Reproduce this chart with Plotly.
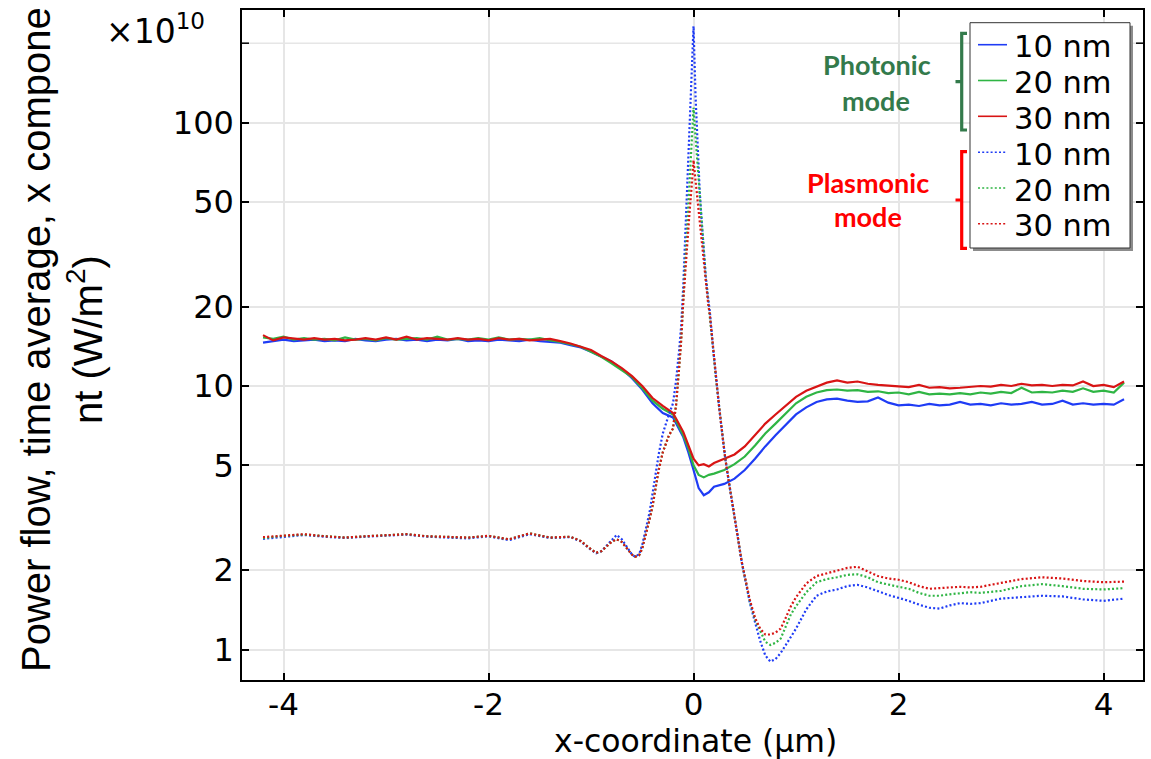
import plotly.graph_objects as go

# ---------------- data ----------------
x_ph = [-4.2, -4.1, -4.0, -3.9, -3.8, -3.7, -3.6, -3.5, -3.4, -3.3,
        -3.2, -3.1, -3.0, -2.9, -2.8, -2.7, -2.6, -2.5, -2.4, -2.3,
        -2.2, -2.1, -2.0, -1.9, -1.8, -1.7, -1.6, -1.5, -1.4, -1.3,
        -1.2, -1.1, -1.0, -0.9, -0.8, -0.7, -0.6, -0.5, -0.4, -0.3,
        -0.2, -0.1, -0.05, 0.0, 0.05, 0.1, 0.15, 0.2, 0.3, 0.4,
        0.5, 0.6, 0.7, 0.8, 0.9, 1.0, 1.1, 1.2, 1.3, 1.4,
        1.5, 1.6, 1.7, 1.8, 1.9, 2.0, 2.1, 2.2, 2.3, 2.4,
        2.5, 2.6, 2.7, 2.8, 2.9, 3.0, 3.1, 3.2, 3.3, 3.4,
        3.5, 3.6, 3.7, 3.8, 3.9, 4.0, 4.1, 4.2]

ph_10nm = [14.6, 14.8, 15.0, 14.8, 14.9, 15.0, 14.8, 14.9, 14.8, 15.1,
           14.9, 14.8, 15.0, 15.1, 14.9, 15.0, 14.8, 15.0, 14.9, 15.1,
           14.8, 14.9, 14.8, 15.0, 14.9, 14.8, 15.0, 14.8, 14.7, 14.6,
           14.3, 14.0, 13.5, 12.9, 12.4, 11.6, 10.7, 9.7, 8.6, 7.9,
           7.6, 6.4, 5.6, 4.8, 4.1, 3.85, 3.95, 4.15, 4.25, 4.45,
           4.8, 5.3, 5.9, 6.5, 7.1, 7.8, 8.3, 8.7, 8.9, 8.95,
           8.8, 8.7, 8.75, 9.05, 8.65, 8.45, 8.5, 8.4, 8.55, 8.45,
           8.5, 8.7, 8.5, 8.55, 8.45, 8.6, 8.5, 8.55, 8.7, 8.5,
           8.55, 8.8, 8.5, 8.6, 8.5, 8.55, 8.5, 8.9]

ph_20nm = [15.3, 15.1, 15.4, 15.0, 15.2, 15.0, 15.1, 14.9, 15.3, 15.0,
           15.1, 14.9, 15.2, 15.0, 15.1, 15.2, 15.0, 15.4, 15.0, 15.1,
           15.0, 15.2, 15.0, 15.3, 15.0, 15.1, 15.0, 15.2, 14.9, 14.7,
           14.4, 14.1, 13.5, 12.9, 12.2, 11.5, 10.8, 9.8, 8.8, 8.2,
           7.8, 6.5, 5.8, 5.0, 4.6, 4.5, 4.6, 4.65, 4.8, 5.05,
           5.4, 5.95, 6.6, 7.2, 7.9, 8.6, 9.1, 9.45, 9.65, 9.7,
           9.6, 9.65, 9.5, 9.55, 9.4, 9.45, 9.3, 9.5, 9.3, 9.35,
           9.3, 9.4, 9.3, 9.45, 9.35, 9.5, 9.4, 9.85, 9.45, 9.5,
           9.45, 9.6, 9.5, 9.8, 9.5, 9.6, 9.45, 10.3]

ph_30nm = [15.6, 14.9, 15.3, 15.1, 15.0, 15.2, 15.0, 15.1, 14.9, 15.0,
           15.2, 15.0, 15.3, 15.0, 15.4, 15.0, 15.2, 15.1, 15.0, 15.2,
           15.0, 15.1, 14.9, 15.2, 15.0, 15.1, 14.9, 15.0, 15.1, 14.8,
           14.5, 14.1, 13.7, 13.0, 12.4, 11.7, 10.9, 10.0, 9.0, 8.4,
           7.9, 6.7, 6.0, 5.3, 5.0, 5.05, 4.95, 5.1, 5.3, 5.5,
           5.9, 6.5, 7.2, 7.8, 8.4, 9.1, 9.6, 9.95, 10.3, 10.5,
           10.3, 10.4, 10.2, 10.1, 10.05, 10.0, 9.9, 10.1, 9.85, 9.9,
           9.8, 9.85, 9.9, 10.0, 9.95, 10.1, 10.0, 10.2, 10.05, 10.1,
           10.0, 10.1, 10.05, 10.4, 10.0, 10.1, 9.9, 10.4]

x_pl = [-4.2, -4.0, -3.8, -3.6, -3.4, -3.2, -3.0, -2.8, -2.6, -2.4,
        -2.2, -2.0, -1.8, -1.6, -1.4, -1.2, -1.1, -1.0, -0.95, -0.9,
        -0.85, -0.8, -0.75, -0.7, -0.65, -0.6, -0.57, -0.53, -0.5, -0.46,
        -0.43, -0.4, -0.37, -0.34, -0.3, -0.27, -0.24, -0.2, -0.17, -0.14,
        -0.12, -0.1, -0.08, -0.06, -0.04, -0.02, 0.0, 0.02, 0.04, 0.06,
        0.08, 0.1, 0.12, 0.14, 0.16, 0.19, 0.22, 0.25, 0.28, 0.31,
        0.35, 0.39, 0.43, 0.47, 0.51, 0.55, 0.6, 0.65, 0.7, 0.75,
        0.8, 0.85, 0.9, 0.95, 1.0, 1.1, 1.2, 1.3, 1.4, 1.5,
        1.6, 1.7, 1.8, 1.9, 2.0, 2.1, 2.2, 2.3, 2.4, 2.5,
        2.6, 2.7, 2.8, 2.9, 3.0, 3.2, 3.4, 3.6, 3.8, 4.0, 4.2]

pl_10nm = [2.63, 2.68, 2.72, 2.68, 2.65, 2.68, 2.70, 2.73, 2.68, 2.66,
           2.64, 2.69, 2.60, 2.74, 2.65, 2.67, 2.57, 2.39, 2.32, 2.36,
           2.48, 2.60, 2.72, 2.62, 2.44, 2.29, 2.25, 2.30, 2.50, 2.95,
           3.3, 3.9, 4.7, 5.5, 6.6, 7.2, 7.8, 8.6, 10.5, 13.7,
           17.0, 24.0, 38.0, 57.0, 91.0, 145.0, 232.0, 125.0, 80.0, 55.0,
           42.0, 32.0, 26.0, 22.0, 19.0, 14.0, 10.5, 8.3, 6.6, 5.3,
           4.2, 3.3, 2.7, 2.15, 1.78, 1.5, 1.27, 1.08, 0.95, 0.9,
           0.92, 0.97, 1.04, 1.12, 1.2, 1.42, 1.6, 1.66, 1.69, 1.74,
           1.76, 1.72, 1.66, 1.61, 1.57, 1.53, 1.48, 1.44, 1.43, 1.47,
           1.5, 1.49, 1.5, 1.53, 1.56, 1.58, 1.6, 1.59, 1.55, 1.53, 1.56]

pl_20nm = [2.65, 2.70, 2.73, 2.69, 2.66, 2.69, 2.71, 2.74, 2.69, 2.67,
           2.66, 2.70, 2.62, 2.76, 2.66, 2.68, 2.58, 2.40, 2.33, 2.36,
           2.46, 2.56, 2.62, 2.56, 2.42, 2.29, 2.25, 2.28, 2.42, 2.77,
           3.1, 3.5, 4.1, 4.8, 5.6, 6.1, 6.5, 6.9, 8.5, 11.8,
           15.0, 21.0, 30.0, 43.0, 60.0, 85.0, 114.0, 88.0, 68.0, 51.0,
           40.0, 31.0, 25.5, 21.5, 18.5, 14.0, 10.5, 8.3, 6.6, 5.3,
           4.2, 3.3, 2.7, 2.15, 1.78, 1.52, 1.3, 1.17, 1.07, 1.04,
           1.06, 1.1, 1.22, 1.36, 1.46, 1.65, 1.8, 1.85, 1.88, 1.92,
           1.93, 1.88, 1.8, 1.76, 1.73, 1.7, 1.64, 1.6, 1.6, 1.62,
           1.64, 1.65, 1.64, 1.66, 1.67, 1.74, 1.77, 1.74, 1.7, 1.69, 1.71]

pl_30nm = [2.67, 2.70, 2.74, 2.69, 2.66, 2.69, 2.71, 2.74, 2.69, 2.67,
           2.66, 2.70, 2.62, 2.76, 2.66, 2.68, 2.58, 2.40, 2.33, 2.36,
           2.46, 2.56, 2.62, 2.56, 2.42, 2.29, 2.25, 2.28, 2.42, 2.77,
           3.1, 3.5, 4.1, 4.8, 5.6, 6.1, 6.5, 6.9, 8.5, 11.8,
           15.0, 21.0, 28.0, 36.0, 45.0, 56.0, 72.0, 60.0, 50.0, 42.0,
           35.0, 29.0, 24.5, 21.0, 18.5, 14.0, 10.5, 8.3, 6.6, 5.3,
           4.2, 3.3, 2.7, 2.15, 1.8, 1.54, 1.32, 1.2, 1.14, 1.14,
           1.16, 1.2, 1.32, 1.46, 1.58, 1.78, 1.9, 1.95, 1.99, 2.04,
           2.06, 1.98, 1.9, 1.86, 1.84, 1.8, 1.74, 1.7, 1.71, 1.72,
           1.73, 1.72, 1.73, 1.76, 1.79, 1.85, 1.88, 1.86, 1.82, 1.8, 1.81]

series_labels = ["10 nm", "20 nm", "30 nm"]
y_tickvals = [1, 2, 5, 10, 20, 50, 100]
y_ticktext = ["1", "2", "5", "10", "20", "50", "100"]
y_extra_grid = [200]          # unlabeled grid line at the top
x_tickvals = [-4, -2, 0, 2, 4]
x_ticktext = ["-4", "-2", "0", "2", "4"]

# ---------------- styling ----------------
W, H = 1151, 759
L, R, T, B = 242, 1143, 10, 680
colors = ["#1f3cf5", "#2fb544", "#d81414"]
dot_dash = "2px,2.2px"
grid_col = "#e6e6e6"


def px(x):
    return (x - L) / (R - L)


def py(y):
    return (B - y) / (B - T)


fig = go.Figure()
for ys, c, lab in zip([ph_10nm, ph_20nm, ph_30nm], colors, series_labels):
    fig.add_trace(go.Scatter(x=x_ph, y=ys, mode="lines", name=lab,
                             line=dict(color=c, width=2.2), showlegend=False))
for ys, c, lab in zip([pl_10nm, pl_20nm, pl_30nm], colors, series_labels):
    fig.add_trace(go.Scatter(x=x_pl, y=ys, mode="lines", name=lab,
                             line=dict(color=c, width=2.2, dash=dot_dash),
                             showlegend=False))

shapes = []
annotations = []

# extra unlabeled grid line + ticks at 200
for v in y_extra_grid:
    shapes.append(dict(type="line", xref="paper", yref="y", x0=0, x1=1, y0=v, y1=v,
                       line=dict(color=grid_col, width=1.6), layer="below"))
    shapes.append(dict(type="line", xref="paper", yref="y", x0=0, x1=px(L + 7), y0=v, y1=v,
                       line=dict(color="black", width=1.5), layer="above"))
    shapes.append(dict(type="line", xref="paper", yref="y", x0=px(R - 7), x1=1, y0=v, y1=v,
                       line=dict(color="black", width=1.5), layer="above"))

# legend box with shadow
shapes.append(dict(type="rect", xref="paper", yref="paper",
                   x0=px(973), x1=px(1133), y0=py(251), y1=py(25.7),
                   fillcolor="#8c8c8c", line=dict(width=0), layer="above"))
shapes.append(dict(type="rect", xref="paper", yref="paper",
                   x0=px(970), x1=px(1130), y0=py(248), y1=py(22.7),
                   fillcolor="white", line=dict(color="#333333", width=1),
                   layer="above"))
row_y = [46.7, 82.5, 118.3, 154.2, 190.0, 225.8]
row_dash = ["solid"] * 3 + [dot_dash] * 3
row_col = colors + colors
row_lab = series_labels + series_labels
for yy, dsh, col, lab in zip(row_y, row_dash, row_col, row_lab):
    shapes.append(dict(type="line", xref="paper", yref="paper",
                       x0=px(978), x1=px(1007), y0=py(yy - 2), y1=py(yy - 2),
                       line=dict(color=col, width=1.6, dash=dsh), layer="above"))
    annotations.append(dict(text=lab, xref="paper", yref="paper",
                            x=px(1012), y=py(yy), xanchor="left", yanchor="middle",
                            showarrow=False,
                            font=dict(family="DejaVu Sans", size=30.5, color="black")))

# brackets
green = "#337a4b"
red = "#ff0000"
for (top, bot, mid, col) in [(33.3, 130.0, 81.7, green), (151.7, 248.3, 200.0, red)]:
    path = (f"M {px(967)},{py(top)} L {px(961.7)},{py(top)} "
            f"L {px(961.7)},{py(bot)} L {px(967)},{py(bot)} "
            f"M {px(961.7)},{py(mid)} L {px(955.5)},{py(mid)}")
    shapes.append(dict(type="path", xref="paper", yref="paper", path=path,
                       line=dict(color=col, width=3.2), layer="above"))

for txt, cx, cy, col in [("Photonic", 876.5, 64.5, green), ("mode", 876.0, 100.0, green),
                         ("Plasmonic", 868.3, 182.0, red), ("mode", 868.0, 216.5, red)]:
    annotations.append(dict(text=f"<b>{txt}</b>", xref="paper", yref="paper",
                            x=px(cx), y=py(cy), xanchor="center", yanchor="middle",
                            showarrow=False,
                            font=dict(family="Lato", size=27, color=col)))

# y-axis title
annotations.append(dict(text="Power flow, time average, x compone<br>nt (W/m<sup>2</sup>)",
                        xref="paper", yref="paper", x=px(62), y=py(340),
                        xanchor="center", yanchor="middle", textangle=-90,
                        showarrow=False,
                        font=dict(family="Liberation Sans, Arial", size=40, color="black")))
# x-axis title
annotations.append(dict(text="x-coordinate (µm)", xref="paper", yref="paper",
                        x=px(695), y=py(741.2), xanchor="center", yanchor="middle",
                        showarrow=False,
                        font=dict(family="DejaVu Sans", size=31.5, color="black")))
# multiplier
annotations.append(dict(text="×10<sup>10</sup>", xref="paper", yref="paper",
                        x=px(207), y=py(29), xanchor="right", yanchor="middle",
                        showarrow=False,
                        font=dict(family="DejaVu Sans", size=33, color="black")))

axis_common = dict(showline=True, linecolor="black", linewidth=1.5, mirror="ticks",
                   ticks="inside", ticklen=7, tickcolor="black", tickwidth=1.5,
                   showgrid=True, gridcolor=grid_col, gridwidth=1.6, zeroline=False)

fig.update_layout(
    width=W, height=H,
    margin=dict(l=L, r=W - R, t=T, b=H - B, autoexpand=False),
    paper_bgcolor="white", plot_bgcolor="white",
    xaxis=dict(range=[-4.405, 4.385], tickvals=x_tickvals, ticktext=x_ticktext,
               ticklabelstandoff=-4,
               tickfont=dict(family="DejaVu Sans", size=31, color="black"),
               **axis_common),
    yaxis=dict(type="log", range=[-0.1157, 2.427], tickvals=y_tickvals,
               ticktext=y_ticktext,
               tickfont=dict(family="DejaVu Sans", size=32, color="black"),
               **axis_common),
    shapes=shapes, annotations=annotations, showlegend=False,
)

fig.write_html("out.html", config={"displayModeBar": False},
               post_script="document.body.style.margin='0';"
                           "document.body.style.overflow='hidden';")
